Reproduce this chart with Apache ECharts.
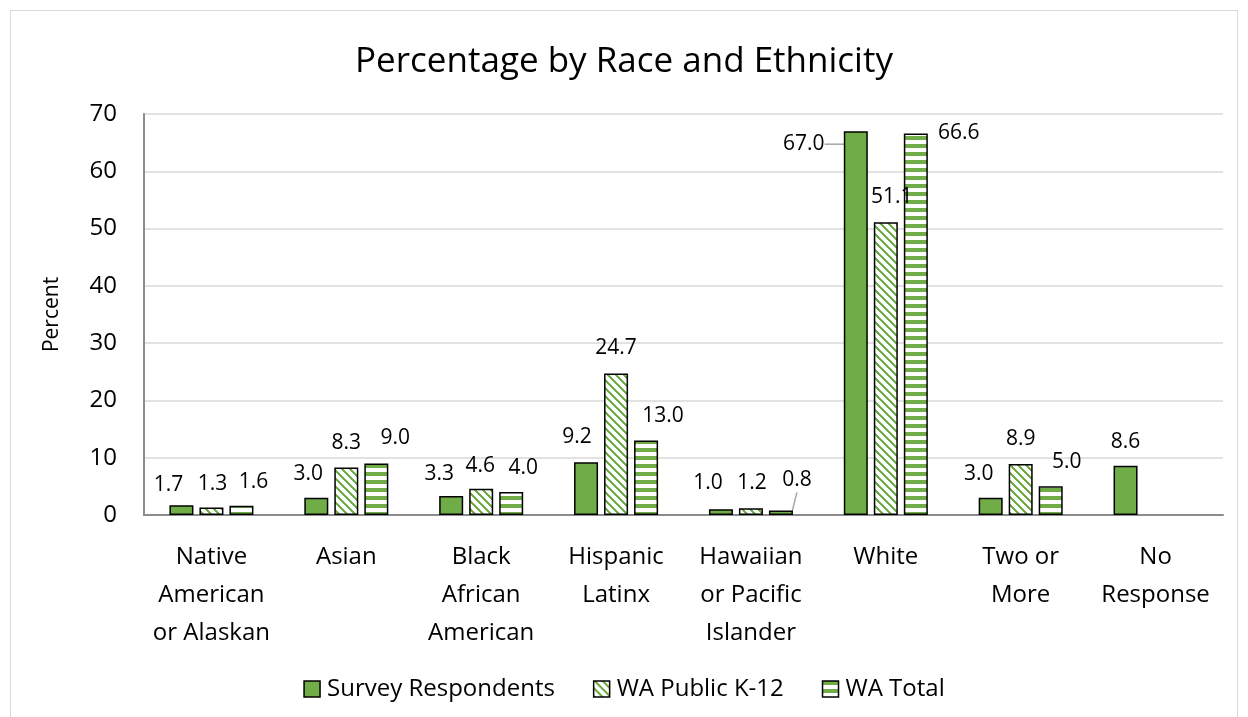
<!DOCTYPE html>
<html>
<head>
<meta charset="utf-8">
<script src="https://cdn.jsdelivr.net/npm/echarts@6/dist/echarts.min.js"></script>
<style>
html,body{margin:0;padding:0;background:#fff;}
#frame{position:absolute;left:10px;top:10px;width:1228px;height:720px;border:1px solid #d9d9d9;box-sizing:border-box;}
#chart{position:absolute;left:0;top:0;width:1248px;height:717px;}
</style>
</head>
<body>
<div id="frame"></div>
<div id="chart"></div>
<script>
const categories = ['Native\nAmerican\nor Alaskan','Asian','Black\nAfrican\nAmerican','Hispanic\nLatinx','Hawaiian\nor Pacific\nIslander','White','Two or\nMore','No\nResponse'];
const seriesNames = ['Survey Respondents','WA Public K-12','WA Total'];
const surveyRespondents = [1.7, 3.0, 3.3, 9.2, 1.0, 67.0, 3.0, 8.6];
const waPublicK12 = [1.3, 8.3, 4.6, 24.7, 1.2, 51.1, 8.9, null];
const waTotal = [1.6, 9.0, 4.0, 13.0, 0.8, 66.6, 5.0, null];
const yTicks = {min: 0, max: 70, interval: 10};

// label nudges (layout only, pixels)
const labelShift = [
  [[-13,4],[-8,0],[-12,2],[-9,-1],[-13,-2],[-52,37],[-12,0],[0,0]],
  [[1,0],[0,0],[-1,1],[0,-1],[1,-1],[6,-1],[0,-1],[0,0]],
  [[12,0],[19,-1],[12,0],[17,-1],[16,-6],[43,24],[16,0],[0,0]]
];
const leaderLines = [[5],[],[4]];

const GREEN = '#70AD47';
function makePattern(kind){
  const c = document.createElement('canvas');
  c.width = 8; c.height = 8;
  const ctx = c.getContext('2d');
  ctx.fillStyle = '#fff'; ctx.fillRect(0,0,8,8);
  ctx.fillStyle = GREEN;
  for(let y=0;y<8;y++){
    for(let x=0;x<8;x++){
      let on;
      if(kind==='diag') on = (((x - y) % 8) + 8) % 8 < 3;
      else on = y < 4;
      if(on) ctx.fillRect(x,y,1,1);
    }
  }
  return {image: c, repeat: 'repeat'};
}
const fills = [GREEN, makePattern('diag'), makePattern('horiz')];
const allValues = [surveyRespondents, waPublicK12, waTotal];

const FONT = 'Open Sans';
const chart = echarts.init(document.getElementById('chart'), null, {renderer:'canvas'});

const series = allValues.map((vals, si) => ({
  name: seriesNames[si],
  type: 'bar',
  barGap: '25%',
  barCategoryGap: '37.7%',
  data: vals.map((v, di) => ({
    value: v,
    labelLine: {show: leaderLines[si].indexOf(di) >= 0}
  })),
  itemStyle: {color: fills[si], borderColor: '#000', borderWidth: 1.5},
  label: {
    show: true, position: 'top', distance: 12,
    formatter: p => p.value == null ? '' : Number(p.value).toFixed(1),
    fontFamily: FONT, fontSize: 21, lineHeight: 24, color: '#000'
  },
  labelLine: {show: false, lineStyle: {color: '#a6a6a6', width: 1.5}},
  labelLayout: function(params){
    const s = labelShift[si][params.dataIndex];
    return {dx: s[0], dy: s[1]};
  },
  emphasis: {disabled: true}
}));

chart.setOption({
  animation: false,
  textStyle: {fontFamily: FONT},
  title: {
    text: 'Percentage by Race and Ethnicity',
    left: 'center', top: 35,
    textStyle: {fontFamily: FONT, fontSize: 35, lineHeight: 44, fontWeight: 'normal', color: '#000'}
  },
  legend: {
    data: seriesNames,
    left: 'center', top: 672,
    itemWidth: 16, itemHeight: 16, itemGap: 38,
    icon: 'rect',
    textStyle: {fontFamily: FONT, fontSize: 24, color: '#000', padding: [0,0,0,2]},
    itemStyle: {borderColor: '#000', borderWidth: 1.5}
  },
  grid: {left: 144, right: 25, top: 114, bottom: 202, containLabel: false},
  xAxis: {
    type: 'category',
    data: categories,
    axisLine: {lineStyle: {color: '#8c8c8c', width: 2}},
    axisTick: {show: false},
    axisLabel: {interval: 0, margin: 23, fontFamily: FONT, fontSize: 24, lineHeight: 38, color: '#000', align: 'center', verticalAlign: 'top'}
  },
  yAxis: {
    type: 'value',
    min: yTicks.min, max: yTicks.max, interval: yTicks.interval,
    name: 'Percent', nameLocation: 'middle', nameGap: 81, nameRotate: 90,
    nameTextStyle: {fontFamily: FONT, fontSize: 21, color: '#000'},
    axisLine: {show: true, lineStyle: {color: '#8c8c8c', width: 2}},
    axisTick: {show: false},
    splitLine: {lineStyle: {color: '#d9d9d9', width: 1.5}},
    axisLabel: {margin: 27, fontFamily: FONT, fontSize: 24, color: '#000'}
  },
  series: series
});
</script>
</body>
</html>
